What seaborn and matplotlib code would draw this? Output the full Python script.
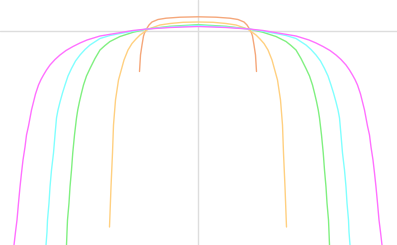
import numpy as np
import pandas as pd
import matplotlib
matplotlib.use('Agg')
import matplotlib.pyplot as plt
import seaborn as sns

# curve points (axes cross at 0, 0)
salmon_x = [-1.17, -1.15, -1.12, -1.09, -1.07, -1.03, -0.98, -0.92, -0.80, -0.64, -0.36, 0.0,
            0.36, 0.64, 0.80, 0.92, 0.98, 1.03, 1.07, 1.09, 1.12, 1.15, 1.17]
salmon_y = [-0.81, -0.48, -0.28, -0.10, -0.04, 0.04, 0.12, 0.18, 0.23, 0.256, 0.276, 0.284,
            0.276, 0.256, 0.23, 0.18, 0.12, 0.04, -0.04, -0.10, -0.28, -0.48, -0.81]

orange_x = [-1.77, -1.74, -1.71, -1.69, -1.65, -1.59, -1.48, -1.40, -1.32, -1.24, -1.16, -0.99, -0.76, -0.56, -0.30, 0.0,
            0.30, 0.56, 0.76, 0.99, 1.16, 1.24, 1.32, 1.40, 1.48, 1.59, 1.65, 1.69, 1.71, 1.74, 1.77]
orange_y = [-3.92, -3.12, -2.44, -1.88, -1.38, -0.98, -0.58, -0.38, -0.25, -0.16, -0.08, 0.04, 0.12, 0.15, 0.174, 0.18,
            0.174, 0.15, 0.12, 0.04, -0.08, -0.16, -0.25, -0.38, -0.58, -0.98, -1.38, -1.88, -2.44, -3.12, -3.92]

green_x = [-2.63, -2.62, -2.61, -2.58, -2.56, -2.53, -2.505, -2.47, -2.43, -2.405, -2.37, -2.33, -2.29, -2.23, -2.16,
           -2.06, -1.96, -1.86, -1.76, -1.56, -1.30, -1.02, -0.56, 0.0,
           0.56, 1.02, 1.30, 1.56, 1.76, 1.86, 1.96, 2.06,
           2.16, 2.23, 2.29, 2.33, 2.37, 2.405, 2.43, 2.47, 2.505, 2.53, 2.56, 2.58, 2.61, 2.62, 2.63]
green_y = [-4.28, -4.02, -3.78, -3.44, -3.12, -2.78, -2.44, -2.08, -1.74, -1.58, -1.41, -1.24, -1.08, -0.90, -0.75,
           -0.55, -0.38, -0.29, -0.21, -0.11, -0.026, 0.04, 0.094, 0.126,
           0.094, 0.04, -0.026, -0.11, -0.21, -0.29, -0.38, -0.55,
           -0.75, -0.90, -1.08, -1.24, -1.41, -1.58, -1.74, -2.08, -2.44, -2.78, -3.12, -3.44, -3.78, -4.02, -4.28]

cyan_x = [-3.04, -3.02, -3.01, -2.98, -2.96, -2.93, -2.89, -2.86, -2.83, -2.80, -2.76, -2.71, -2.66, -2.60, -2.53,
          -2.45, -2.36, -2.26, -2.16, -1.96, -1.76, -1.56, -1.30, -1.02, -0.56, 0.0,
          0.56, 1.02, 1.30, 1.56, 1.76, 1.96, 2.16, 2.26, 2.36, 2.45,
          2.53, 2.60, 2.66, 2.71, 2.76, 2.80, 2.83, 2.86, 2.89, 2.93, 2.96, 2.98, 3.01, 3.02, 3.04]
cyan_y = [-4.28, -4.02, -3.78, -3.44, -3.12, -2.78, -2.44, -2.08, -1.74, -1.58, -1.42, -1.24, -1.08, -0.90, -0.75,
          -0.60, -0.48, -0.37, -0.28, -0.15, -0.09, -0.05, -0.004, 0.04, 0.08, 0.11,
          0.08, 0.04, -0.004, -0.05, -0.09, -0.15, -0.28, -0.37, -0.48, -0.60,
          -0.75, -0.90, -1.08, -1.24, -1.42, -1.58, -1.74, -2.08, -2.44, -2.78, -3.12, -3.44, -3.78, -4.02, -4.28]

magenta_x = [-3.68, -3.65, -3.62, -3.59, -3.56, -3.53, -3.50, -3.46, -3.43, -3.39, -3.36, -3.33, -3.29, -3.25, -3.19,
             -3.14, -3.09, -3.03, -2.96, -2.86, -2.76, -2.64, -2.50, -2.36, -2.22, -1.96, -1.60, -1.30, -1.02, -0.56, 0.0,
             0.56, 1.02, 1.30, 1.60, 1.96, 2.22, 2.36, 2.50, 2.64, 2.76, 2.86, 2.96, 3.03, 3.09, 3.14,
             3.19, 3.25, 3.29, 3.33, 3.36, 3.39, 3.43, 3.46, 3.50, 3.53, 3.56, 3.59, 3.62, 3.65, 3.68]
magenta_y = [-4.28, -4.02, -3.78, -3.44, -3.12, -2.84, -2.58, -2.32, -2.08, -1.90, -1.74, -1.58, -1.42, -1.26, -1.08,
             -0.97, -0.88, -0.78, -0.68, -0.57, -0.48, -0.39, -0.31, -0.24, -0.18, -0.10, -0.04, 0.01, 0.04, 0.07, 0.09,
             0.07, 0.04, 0.01, -0.04, -0.10, -0.18, -0.24, -0.31, -0.39, -0.48, -0.57, -0.68, -0.78, -0.88, -0.97,
             -1.08, -1.26, -1.42, -1.58, -1.74, -1.90, -2.08, -2.32, -2.58, -2.84, -3.12, -3.44, -3.78, -4.02, -4.28]

curves = [
    (salmon_x, salmon_y, '#f5a77a'),
    (orange_x, orange_y, '#ffd080'),
    (green_x, green_y, '#80f080'),
    (cyan_x, cyan_y, '#80ffff'),
    (magenta_x, magenta_y, '#ff70ff'),
]

sns.set_style('white')
fig = plt.figure(figsize=(3.97, 2.45), dpi=100)
ax = fig.add_axes([0, 0, 1, 1])

ax.axhline(0, color='#dddddd', lw=1, zorder=0)
ax.axvline(0, color='#dddddd', lw=1, zorder=0)

for xs, ys, c in curves:
    sns.lineplot(x=xs, y=ys, sort=False, color=c, lw=1.0, ax=ax)

ax.set_xlim(-3.96, 3.98)
ax.set_ylim(-4.28, 0.62)
ax.set_xticks([])
ax.set_yticks([])
ax.set_xlabel('')
ax.set_ylabel('')
for s in ax.spines.values():
    s.set_visible(False)

fig.savefig('out.png', dpi=100)
